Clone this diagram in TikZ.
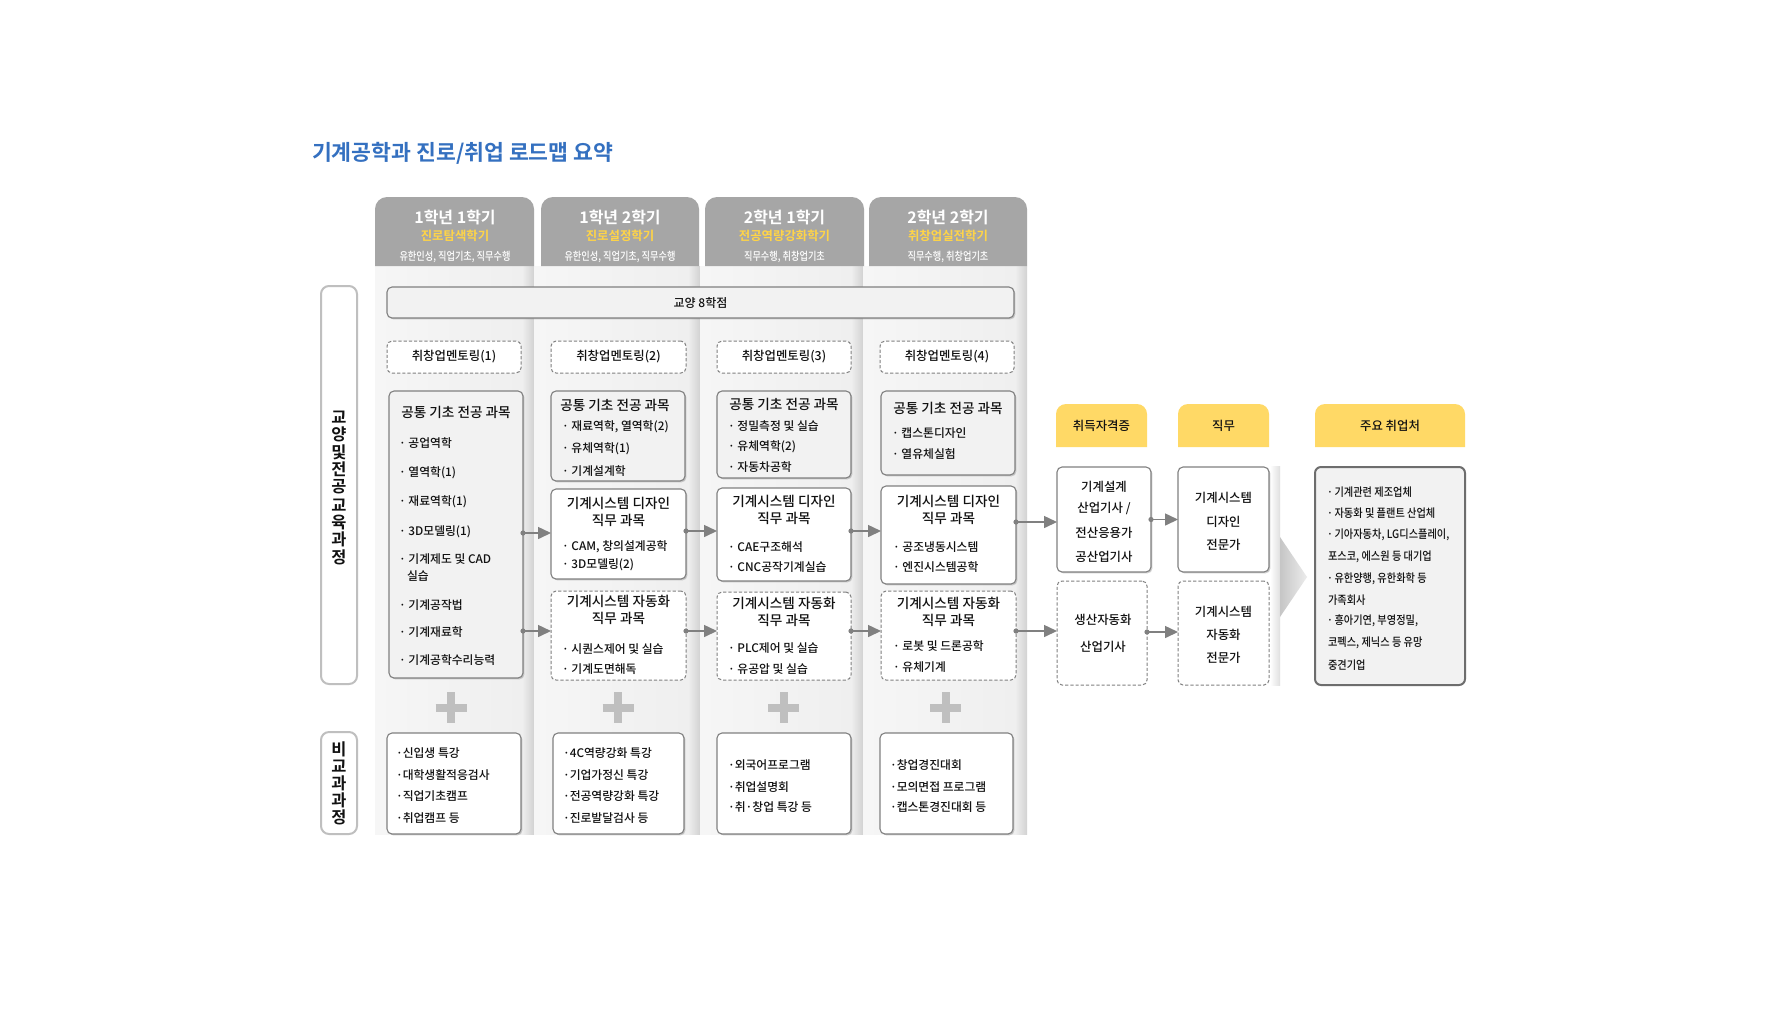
\documentclass[tikz,border=0pt]{standalone}
\usepackage{fontspec}
\usepackage{graphicx}
\setmainfont{Noto Sans CJK KR}[UprightFont={* Medium},BoldFont={* Bold}]
\usetikzlibrary{shadows,arrows.meta,fit}
\definecolor{hdrgray}{HTML}{A6A6A6}
\definecolor{hdryel}{HTML}{FFD447}
\definecolor{yelbox}{HTML}{FFD966}
\definecolor{ttlblue}{HTML}{3470C0}
\definecolor{bordergray}{HTML}{808080}
\definecolor{boxfill}{HTML}{F2F2F2}
\definecolor{lblgray}{HTML}{BFBFBF}
\definecolor{arrgray}{HTML}{808080}
\definecolor{txt}{HTML}{111111}
\definecolor{pgA}{HTML}{F6F6F6}
\definecolor{pgB}{HTML}{EFEFEF}
\definecolor{pgC}{HTML}{D2D2D2}
\definecolor{plusgray}{HTML}{BFBFBF}
\newcommand\condtext[2][0.82]{\scalebox{#1}[1]{#2}}
\newcounter{txc}
\newcommand\txline[4][]{\stepcounter{txc}\node[#1] (tx\arabic{txc}) at (#2,#3) {#4};}
\tikzset{
  base/.style={inner sep=0pt, outer sep=0pt},
  shd/.style={drop shadow={shadow xshift=0.7pt,shadow yshift=-0.7pt,opacity=0.3,fill=black!60}},
  greybox/.style={base, rounded corners=2.5pt, draw=bordergray, line width=0.55pt, fill=boxfill, shd},
  whitebox/.style={base, rounded corners=2.5pt, draw=bordergray, line width=0.55pt, fill=white, shd},
  dashbox/.style={base, rounded corners=2.5pt, draw=bordergray, line width=0.5pt, fill=white, dash pattern=on 1.6pt off 1pt},
  lblbox/.style={base, rounded corners=4pt, draw=lblgray, line width=1pt, fill=white},
  empbox/.style={base, rounded corners=3pt, draw=bordergray!85!black, line width=1pt, fill=boxfill},
  ttl/.style={base, font=\fontsize{6.8}{8}\selectfont, text=txt},
  itm/.style={base, anchor=west, font=\fontsize{5.9}{7}\selectfont, text=txt},
  mnt/.style={base, font=\fontsize{6.2}{7.5}\selectfont, text=txt},
  crt/.style={base, font=\fontsize{6.2}{7.5}\selectfont, text=txt},
  yeltxt/.style={base, font=\fontsize{6.2}{7.5}\selectfont, text=txt},
  emp/.style={base, anchor=west, font=\fontsize{5.8}{7}\selectfont, text=txt},
  lbl/.style={base, font=\bfseries\fontsize{8.2}{9}\selectfont, text=txt},
  hA/.style={base, font=\bfseries\fontsize{8}{9}\selectfont, text=white},
  hB/.style={base, font=\bfseries\fontsize{6.2}{7}\selectfont, text=hdryel},
  hC/.style={base, font=\fontsize{5.6}{6}\selectfont, text=white},
  conn/.style={draw=arrgray, line width=0.75pt, -{Triangle[length=6.5pt,width=6pt]}},
  dotc/.style={fill=arrgray},
  plus/.style={draw=plusgray, line width=4pt},
}
\begin{document}
\begin{tikzpicture}[x=0.5pt,y=-0.5pt]
\useasboundingbox[fill=white] (0,0) rectangle (1792,1008);

% title
\node[base, anchor=west, font=\bfseries\fontsize{10.8}{12}\selectfont, text=ttlblue] (title) at (312,153) {기계공학과 진로/취업 로드맵 요약};

% panels
\foreach \xa/\xb in {375/534, 534/700, 700/863, 863/1027}{
  \shade[left color=pgA, right color=pgB] (\xa,266) rectangle (\xb-12,834);
  \shade[left color=pgB, right color=pgC] (\xb-12,266) rectangle (\xb,834);
}

% header tabs
\foreach \xa/\xb in {375/534, 541/699, 705/864, 869/1027}{
  \fill[hdrgray] (\xa,266) -- (\xa,230) [rounded corners=6pt] -- (\xa,197) -- (\xb,197) -- (\xb,230) [sharp corners] -- (\xb,266) -- cycle;
}
\txline[hA]{455}{217}{1학년 1학기}
\txline[hB]{455}{236}{진로탐색학기}
\txline[hC]{455}{257}{\condtext{유한인성, 직업기초, 직무수행}}
\txline[hA]{620}{217}{1학년 2학기}
\txline[hB]{620}{236}{진로설정학기}
\txline[hC]{620}{257}{\condtext{유한인성, 직업기초, 직무수행}}
\txline[hA]{784.5}{217}{2학년 1학기}
\txline[hB]{784.5}{236}{전공역량강화학기}
\txline[hC]{784.5}{257}{\condtext{직무수행, 취창업기초}}
\txline[hA]{948}{217}{2학년 2학기}
\txline[hB]{948}{236}{취창업실전학기}
\txline[hC]{948}{257}{\condtext{직무수행, 취창업기초}}

% left labels
\node[lblbox, fit={(321,286) (357,684)}] (lblmain) {};
\foreach \ch/\yy [count=\i] in {교/417, 양/434.5, 및/452, 전/469.5, 공/487, 교/505, 육/522, 과/539.5, 정/557}
  \node[lbl] (lm\i) at (339,\yy) {\ch};
\node[lblbox, fit={(321,732) (357,834)}] (lblextra) {};
\foreach \ch/\yy [count=\i] in {비/749, 교/766, 과/783, 과/800, 정/817}
  \node[lbl] (le\i) at (339,\yy) {\ch};

% liberal arts
\node[greybox, fit={(387,287) (1014,318)}, label={[mnt, font=\fontsize{6}{7}\selectfont]center:교양 8학점}] (liberal) {};

% mentoring
\node[dashbox, fit={(387,341) (521,373)}, label={[mnt]center:취창업멘토링(1)}] (m1) {};
\node[dashbox, fit={(551,341) (686,373)}, label={[mnt]center:취창업멘토링(2)}] (m2) {};
\node[dashbox, fit={(717,341) (851,373)}, label={[mnt]center:취창업멘토링(3)}] (m3) {};
\node[dashbox, fit={(880,341) (1014,373)}, label={[mnt]center:취창업멘토링(4)}] (m4) {};

% common basic major
\node[greybox, fit={(389,391) (523,678)}] (c1) {};
\node[greybox, fit={(551,391) (685,481)}] (c2) {};
\node[greybox, fit={(717,391) (851,478)}] (c3) {};
\node[greybox, fit={(881,391) (1015,475)}] (c4) {};
\txline[ttl]{456}{412}{공통 기초 전공 과목}
\txline[itm]{399}{443}{· 공업역학}
\txline[itm]{399}{473}{· 열역학(1)}
\txline[itm]{399}{502}{· 재료역학(1)}
\txline[itm]{399}{531.5}{· 3D모델링(1)}
\txline[itm]{399}{559}{· 기계제도 및 CAD}
\txline[itm]{407}{576}{실습}
\txline[itm]{399}{605}{· 기계공작법}
\txline[itm]{399}{632}{· 기계재료학}
\txline[itm]{399}{660}{· 기계공학수리능력}

\txline[ttl]{615}{405}{공통 기초 전공 과목}
\txline[itm]{562}{426.7}{· 재료역학, 열역학(2)}
\txline[itm]{562}{449}{· 유체역학(1)}
\txline[itm]{562}{470.7}{· 기계설계학}

\txline[ttl]{784}{404}{공통 기초 전공 과목}
\txline[itm]{728}{425.7}{· 정밀측정 및 실습}
\txline[itm]{728}{446.7}{· 유체역학(2)}
\txline[itm]{728}{467.3}{· 자동차공학}

\txline[ttl]{948}{408.3}{공통 기초 전공 과목}
\txline[itm]{892}{432.7}{· 캡스톤디자인}
\txline[itm]{892}{454}{· 열유체실험}

% design track
\node[whitebox, fit={(551,489) (686,579)}] (d2) {};
\node[whitebox, fit={(717,488) (851,581)}] (d3) {};
\node[whitebox, fit={(881,486) (1016,584)}] (d4) {};
\txline[ttl]{618.5}{503.3}{기계시스템 디자인}
\txline[ttl]{618.5}{520}{직무 과목}
\txline[itm]{562}{546.7}{· CAM, 창의설계공학}
\txline[itm]{562}{565}{· 3D모델링(2)}
\txline[ttl]{784}{501.7}{기계시스템 디자인}
\txline[ttl]{784}{518.3}{직무 과목}
\txline[itm]{728}{546.7}{· CAE구조해석}
\txline[itm]{728}{567.3}{· CNC공작기계실습}
\txline[ttl]{948.5}{501.7}{기계시스템 디자인}
\txline[ttl]{948.5}{518.3}{직무 과목}
\txline[itm]{893}{546.7}{· 공조냉동시스템}
\txline[itm]{893}{567.3}{· 엔진시스템공학}

% automation track
\node[dashbox, fit={(551,591) (686,680)}] (a2) {};
\node[dashbox, fit={(717,592) (851,680)}] (a3) {};
\node[dashbox, fit={(881,591) (1016,680)}] (a4) {};
\txline[ttl]{618.5}{601.7}{기계시스템 자동화}
\txline[ttl]{618.5}{618.3}{직무 과목}
\txline[itm]{562}{649}{· 시퀀스제어 및 실습}
\txline[itm]{562}{669}{· 기계도면해독}
\txline[ttl]{784}{603.3}{기계시스템 자동화}
\txline[ttl]{784}{620}{직무 과목}
\txline[itm]{728}{648.3}{· PLC제어 및 실습}
\txline[itm]{728}{669.3}{· 유공압 및 실습}
\txline[ttl]{948.5}{603.3}{기계시스템 자동화}
\txline[ttl]{948.5}{620}{직무 과목}
\txline[itm]{893}{645.7}{· 로봇 및 드론공학}
\txline[itm]{893}{666.7}{· 유체기계}

% plus signs
\foreach \px [count=\i] in {451, 618, 783.5, 945.5}
  \draw[plus] (\px-15.5,707.5) -- (\px+15.5,707.5) (\px,692) -- (\px,723);

% extracurricular
\node[whitebox, fit={(387,733) (521,834)}] (e1) {};
\node[whitebox, fit={(553,733) (684,834)}] (e2) {};
\node[whitebox, fit={(717,733) (851,834)}] (e3) {};
\node[whitebox, fit={(880,733) (1013,834)}] (e4) {};
\txline[itm]{396}{752.7}{·신입생 특강}
\txline[itm]{396}{775}{·대학생활적응검사}
\txline[itm]{396}{796.5}{·직업기초캠프}
\txline[itm]{396}{817.7}{·취업캠프 등}
\txline[itm]{563}{752.7}{·4C역량강화 특강}
\txline[itm]{563}{775}{·기업가정신 특강}
\txline[itm]{563}{796.5}{·전공역량강화 특강}
\txline[itm]{563}{817.7}{·진로발달검사 등}
\txline[itm]{728}{765}{·외국어프로그램}
\txline[itm]{728}{786.7}{·취업설명회}
\txline[itm]{728}{806.7}{·취·창업 특강 등}
\txline[itm]{890}{765}{·창업경진대회}
\txline[itm]{890}{786.7}{·모의면접 프로그램}
\txline[itm]{890}{806.7}{·캡스톤경진대회 등}

% yellow headers
\foreach \xa/\xb/\tt [count=\i] in {1056/1147/취득자격증, 1178/1269/직무, 1315/1465/주요 취업처}{
  \fill[yelbox] (\xa,447) -- (\xa,425) [rounded corners=5pt] -- (\xa,404) -- (\xb,404) -- (\xb,425) [sharp corners] -- (\xb,447) -- cycle;
  \node[yeltxt] (yh\i) at ({(\xa+\xb)/2},426) {\tt};
}

% chevron
\shade[left color=white, right color=gray!25] (1270,466) rectangle (1280,685);
\shade[left color=gray!45, right color=gray!15] (1280,537) -- (1307,577) -- (1280,617) -- cycle;

% certificates and jobs
\node[whitebox, fit={(1057,467) (1151,572)}] (cert1) {};
\node[dashbox, fit={(1057,581) (1147,685)}] (cert2) {};
\node[whitebox, fit={(1178,467) (1269,572)}] (job1) {};
\node[dashbox, fit={(1178,581) (1269,685)}] (job2) {};
\txline[crt]{1104}{486.7}{기계설계}
\txline[crt]{1104}{508.7}{산업기사 /}
\txline[crt]{1104}{533.3}{전산응용가}
\txline[crt]{1104}{556.7}{공산업기사}
\txline[crt]{1103}{620}{생산자동화}
\txline[crt]{1103}{646.7}{산업기사}
\txline[crt]{1223.5}{498.3}{기계시스템}
\txline[crt]{1223.5}{521.7}{디자인}
\txline[crt]{1223.5}{545}{전문가}
\txline[crt]{1223.5}{611.7}{기계시스템}
\txline[crt]{1223.5}{635}{자동화}
\txline[crt]{1223.5}{658.3}{전문가}

% employers
\node[empbox, fit={(1315,467) (1465,685)}] (empl) {};
\txline[emp]{1327}{491.7}{\condtext[0.88]{·\,기계관련 제조업체}}
\txline[emp]{1327}{513.3}{\condtext[0.88]{·\,자동화 및 플랜트 산업체}}
\txline[emp]{1327}{535}{\condtext[0.88]{·\,기아자동차, LG디스플레이,}}
\txline[emp]{1328}{556.7}{\condtext[0.88]{포스코, 에스원 등 대기업}}
\txline[emp]{1327}{578.3}{\condtext[0.88]{·\,유한양행, 유한화학 등}}
\txline[emp]{1328}{600}{\condtext[0.88]{가족회사}}
\txline[emp]{1327}{620.7}{\condtext[0.88]{·\,흥아기연, 부영정밀,}}
\txline[emp]{1328}{643.3}{\condtext[0.88]{코펙스, 제닉스 등 유망}}
\txline[emp]{1328}{665}{\condtext[0.88]{중견기업}}

% connectors
\coordinate (rA) at (0,533);
\coordinate (rB) at (0,631);
\coordinate (rC) at (0,531);
\coordinate (rD) at (0,522);
\coordinate (rE) at (0,519.5);
\coordinate (rF) at (0,632);
\foreach \s/\t/\r in {c1/d2/rA, c1/a2/rB, d2/d3/rC, a2/a3/rB, d3/d4/rC, a3/a4/rB, d4/cert1/rD, a4/cert2/rB, cert1/job1/rE, cert2/job2/rF}{
  \draw[conn] (\s.east |- \r) -- (\t.west |- \r);
  \fill[dotc] (\s.east |- \r) circle[radius=1.3pt];
}
\end{tikzpicture}
\end{document}
